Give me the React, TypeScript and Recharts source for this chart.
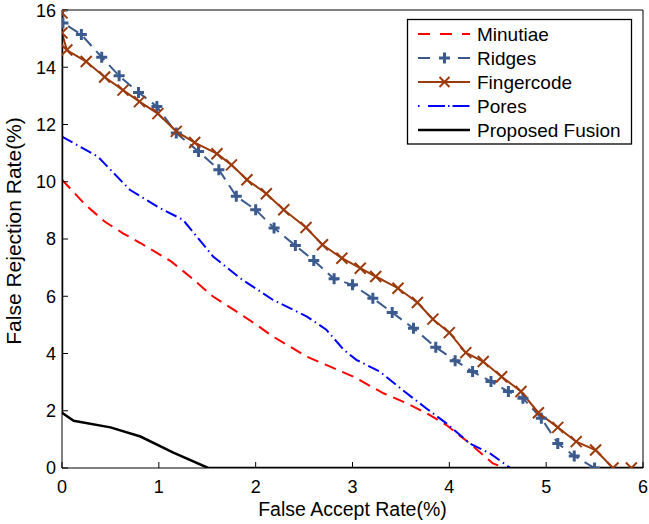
import React from 'react';
import { LineChart, Line, XAxis, YAxis, Customized } from 'recharts';

// ---------- data ----------
const minutiaeFAR = [0, 0.24, 0.44, 0.63, 0.81, 1.13, 1.32, 1.56, 1.8, 2.01, 2.18, 2.53, 2.77, 3.01, 3.32, 3.56, 3.8, 3.97, 4.21, 4.45, 4.58];
const minutiaeFRR = [10.07, 9.2, 8.61, 8.2, 7.86, 7.21, 6.69, 5.99, 5.47, 5.0, 4.59, 3.89, 3.54, 3.19, 2.61, 2.26, 1.85, 1.5, 0.86, 0.16, 0];

const ridgesFAR = [0, 0.01, 0.2, 0.41, 0.59, 0.79, 0.98, 1.18, 1.41, 1.62, 1.8, 2.0, 2.19, 2.41, 2.6, 2.81, 3.0, 3.21, 3.41, 3.63, 3.86, 4.06, 4.24, 4.43, 4.61, 4.76, 4.95, 5.12, 5.29, 5.5];
const ridgesFRR = [16, 15.55, 15.14, 14.35, 13.7, 13.12, 12.63, 11.7, 11.06, 10.42, 9.49, 9.02, 8.38, 7.77, 7.25, 6.61, 6.4, 5.93, 5.43, 4.88, 4.22, 3.75, 3.37, 3.02, 2.67, 2.44, 1.74, 0.86, 0.42, 0];

const fingercodeFAR = [0, 0, 0.05, 0.25, 0.44, 0.63, 0.8, 0.99, 1.18, 1.37, 1.6, 1.75, 1.91, 2.11, 2.29, 2.52, 2.69, 2.89, 3.08, 3.24, 3.47, 3.67, 3.83, 4.0, 4.17, 4.35, 4.54, 4.74, 4.92, 5.12, 5.31, 5.51, 5.69, 5.88];
const fingercodeFRR = [15.9, 15.2, 14.6, 14.2, 13.66, 13.2, 12.8, 12.38, 11.76, 11.37, 10.98, 10.59, 10.07, 9.58, 9.02, 8.4, 7.8, 7.33, 6.98, 6.69, 6.28, 5.78, 5.2, 4.73, 4.03, 3.72, 3.19, 2.67, 1.93, 1.42, 0.92, 0.63, 0, 0];

const poresFAR = [0, 0.37, 0.7, 1.0, 1.25, 1.42, 1.56, 1.84, 2.18, 2.53, 2.73, 2.91, 3.04, 3.28, 3.56, 3.76, 3.97, 4.21, 4.42, 4.63];
const poresFRR = [11.58, 10.88, 9.72, 9.1, 8.67, 7.97, 7.39, 6.63, 5.87, 5.29, 4.83, 4.13, 3.78, 3.37, 2.61, 2.09, 1.56, 0.86, 0.51, 0];

const fusionFAR = [0, 0, 0.12, 0.5, 0.81, 1.15, 1.51, 6];
const fusionFRR = [16, 1.93, 1.65, 1.42, 1.1, 0.54, 0, 0];

const xTicks = [0, 1, 2, 3, 4, 5, 6];
const yTicks = [0, 2, 4, 6, 8, 10, 12, 14, 16];
const seriesNames = ['Minutiae', 'Ridges', 'Fingercode', 'Pores', 'Proposed Fusion'];
const xLabel = 'False Accept Rate(%)';
const yLabel = 'False Rejection Rate(%)';

// ---------- styles ----------
const W = 649;
const H = 524;
const FONT = '"Liberation Sans", Arial, Helvetica, sans-serif';
const RED = '#ff0000';
const RIDGE = '#3b5a8e';
const FINGER = '#9c3a0c';
const BLUE = '#0000ff';
const BLACK = '#000000';

const zip = (xs: number[], ys: number[]) => xs.map((x, i) => ({ x, y: ys[i] }));
const minutiaeData = zip(minutiaeFAR, minutiaeFRR);
const ridgesData = zip(ridgesFAR, ridgesFRR);
const fingercodeData = zip(fingercodeFAR, fingercodeFRR);
const poresData = zip(poresFAR, poresFRR);
const fusionData = zip(fusionFAR, fusionFRR);

const plusPath = (cx: number, cy: number, r: number) =>
  `M${cx - r},${cy}H${cx + r}M${cx},${cy - r}V${cy + r}`;
const crossPath = (cx: number, cy: number, r: number) =>
  `M${cx - r},${cy - r}L${cx + r},${cy + r}M${cx - r},${cy + r}L${cx + r},${cy - r}`;

const PlusDot = (props: any) => {
  const { cx, cy, index } = props;
  if (cx == null || cy == null) return <g key={`pl${index}`} />;
  return (
    <path key={`pl${index}`} d={plusPath(cx, cy, 5.5)} stroke={RIDGE} strokeWidth={3} fill="none" strokeDasharray="none" />
  );
};

const CrossDot = (props: any) => {
  const { cx, cy, index } = props;
  if (cx == null || cy == null) return <g key={`cr${index}`} />;
  return (
    <path key={`cr${index}`} d={crossPath(cx, cy, 5.5)} stroke={FINGER} strokeWidth={2} fill="none" strokeDasharray="none" />
  );
};

const PLOT_L = 62;
const PLOT_R = 643;
const PLOT_T = 10;
const PLOT_B = 468;

const Overlay = () => {
  const lx0 = 418;
  const lx1 = 470;
  const tx = 477;
  const rows = [34, 58, 82, 106, 130];
  return (
    <g fontFamily={FONT}>
      {/* axis titles */}
      <text x={(PLOT_L + PLOT_R) / 2} y={515.5} textAnchor="middle" fontSize={19.5} fill="#000">
        {xLabel}
      </text>
      <text
        x={20.5}
        y={231}
        transform={`rotate(-90 20.5 231)`}
        textAnchor="middle"
        fontSize={21}
        fill="#000"
      >
        {yLabel}
      </text>
      {/* legend */}
      <rect x={407.5} y={19.5} width={224} height={124.5} fill="#fff" stroke="#000" strokeWidth={1.3} />
      {/* Minutiae */}
      <line x1={lx0} y1={rows[0]} x2={lx1} y2={rows[0]} stroke={RED} strokeWidth={2} strokeDasharray="12 10" />
      {/* Ridges */}
      <line x1={lx0} y1={rows[1]} x2={430} y2={rows[1]} stroke={RIDGE} strokeWidth={2} />
      <line x1={458} y1={rows[1]} x2={lx1} y2={rows[1]} stroke={RIDGE} strokeWidth={2} />
      <path d={plusPath(444.5, rows[1], 5.5)} stroke={RIDGE} strokeWidth={3} fill="none" />
      {/* Fingercode */}
      <line x1={lx0} y1={rows[2]} x2={lx1} y2={rows[2]} stroke={FINGER} strokeWidth={2} />
      <path d={crossPath(444.5, rows[2], 5)} stroke={FINGER} strokeWidth={2} fill="none" />
      {/* Pores */}
      <line x1={lx0} y1={rows[3]} x2={lx1} y2={rows[3]} stroke={BLUE} strokeWidth={2} strokeDasharray="1.5 8.5 17 3 1.5 3 17" />
      {/* Fusion */}
      <line x1={lx0} y1={rows[4]} x2={lx1} y2={rows[4]} stroke={BLACK} strokeWidth={2.5} />
      {seriesNames.map((n, i) => (
        <text key={n} x={tx} y={rows[i]} dy="0.36em" fontSize={19} fill="#000">
          {n}
        </text>
      ))}
    </g>
  );
};

export default function App() {
  const tickStyle = { fontSize: 18, fill: '#000', fontFamily: FONT };
  return (
    <div style={{ position: 'absolute', left: 0, top: 0, background: '#fff' }}>
      <LineChart width={W} height={H} margin={{ top: PLOT_T - 1, right: W - PLOT_R - 1, bottom: 0, left: 0 }}>
        <XAxis
          xAxisId="b"
          dataKey="x"
          type="number"
          domain={[0, 6]}
          ticks={xTicks}
          allowDataOverflow
          height={H - PLOT_B}
          stroke="#000"
          tickSize={-6}
          tickMargin={18}
          tick={tickStyle}
          tickLine={{ stroke: '#000' }}
          axisLine={{ stroke: '#000' }}
        />
        <XAxis
          xAxisId="t"
          orientation="top"
          dataKey="x"
          type="number"
          domain={[0, 6]}
          ticks={xTicks}
          height={1}
          tickSize={-6}
          tick={false}
          tickLine={{ stroke: '#000' }}
          axisLine={{ stroke: '#000' }}
        />
        <YAxis
          yAxisId="l"
          type="number"
          domain={[0, 16]}
          ticks={yTicks}
          allowDataOverflow
          width={PLOT_L}
          tickSize={-6}
          tickMargin={12}
          tick={tickStyle}
          tickLine={{ stroke: '#000' }}
          axisLine={{ stroke: '#000' }}
        />
        <YAxis
          yAxisId="r"
          orientation="right"
          type="number"
          domain={[0, 16]}
          ticks={yTicks}
          width={1}
          tickSize={-6}
          tick={false}
          tickLine={{ stroke: '#000' }}
          axisLine={{ stroke: '#000' }}
        />
        <Line
          xAxisId="b"
          yAxisId="l"
          data={minutiaeData}
          dataKey="y"
          type="linear"
          stroke={RED}
          strokeWidth={2}
          strokeDasharray="12 7"
          dot={false}
          activeDot={false}
          isAnimationActive={false}
        />
        <Line
          xAxisId="b"
          yAxisId="l"
          data={poresData}
          dataKey="y"
          type="linear"
          stroke={BLUE}
          strokeWidth={2}
          strokeDasharray="12 4 1.5 4"
          dot={false}
          activeDot={false}
          isAnimationActive={false}
        />
        <Line
          xAxisId="b"
          yAxisId="l"
          data={ridgesData}
          dataKey="y"
          type="linear"
          stroke={RIDGE}
          strokeWidth={2}
          strokeDasharray="12 7"
          dot={PlusDot}
          activeDot={false}
          isAnimationActive={false}
        />
        <Line
          xAxisId="b"
          yAxisId="l"
          data={fingercodeData}
          dataKey="y"
          type="linear"
          stroke={FINGER}
          strokeWidth={2}
          dot={CrossDot}
          activeDot={false}
          isAnimationActive={false}
        />
        <Line
          xAxisId="b"
          yAxisId="l"
          data={fusionData}
          dataKey="y"
          type="linear"
          stroke={BLACK}
          strokeWidth={2.5}
          dot={false}
          activeDot={false}
          isAnimationActive={false}
        />
        <Customized component={Overlay} />
      </LineChart>
    </div>
  );
}
